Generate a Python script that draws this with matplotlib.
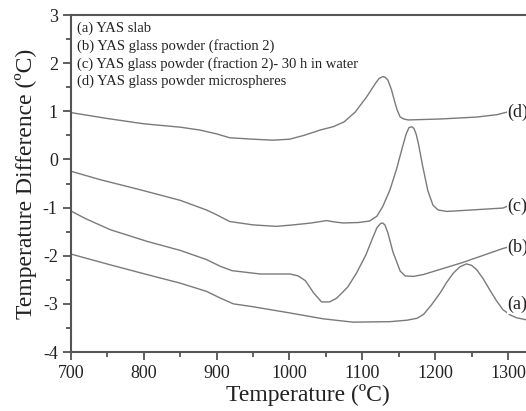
import numpy as np
import matplotlib
matplotlib.use('Agg')
from matplotlib import pyplot as plt
from matplotlib.ticker import MultipleLocator

plt.rcParams['font.family'] = ['Liberation Serif', 'DejaVu Serif']
plt.rcParams['axes.unicode_minus'] = False

# (a) YAS slab
t_a = [701, 754, 804, 850, 886, 905, 923, 950, 1001, 1046, 1087, 1138, 1161,
       1175, 1184, 1195, 1207, 1216, 1225, 1234, 1243, 1250, 1257, 1266, 1275,
       1284, 1293, 1303, 1312, 1325, 1350]
dt_a = [-1.97, -2.19, -2.39, -2.57, -2.74, -2.88, -3.00, -3.06, -3.19, -3.31,
        -3.38, -3.37, -3.34, -3.30, -3.22, -3.02, -2.77, -2.55, -2.36, -2.23,
        -2.17, -2.20, -2.29, -2.48, -2.71, -2.93, -3.12, -3.23, -3.29, -3.33,
        -3.36]

# (b) YAS glass powder (fraction 2)
t_b = [701, 720, 754, 804, 850, 886, 905, 921, 960, 1001, 1012, 1022, 1033,
       1044, 1055, 1065, 1080, 1092, 1105, 1115, 1120, 1125, 1128, 1131, 1135,
       1142, 1152, 1159, 1170, 1184, 1238, 1293, 1298]
dt_b = [-1.08, -1.23, -1.46, -1.70, -1.89, -2.08, -2.22, -2.31, -2.38, -2.38,
        -2.42, -2.52, -2.77, -2.96, -2.96, -2.88, -2.65, -2.36, -1.98, -1.60,
        -1.42, -1.33, -1.32, -1.36, -1.52, -1.92, -2.32, -2.42, -2.43, -2.39,
        -2.14, -1.85, -1.83]

# (c) YAS glass powder (fraction 2)- 30 h in water
t_c = [701, 740, 795, 850, 886, 900, 918, 950, 982, 1005, 1030, 1051, 1062,
       1074, 1095, 1110, 1120, 1128, 1138, 1147, 1155, 1160, 1164, 1168, 1171,
       1174, 1177, 1183, 1190, 1197, 1204, 1216, 1250, 1293, 1298]
dt_c = [-0.25, -0.42, -0.63, -0.85, -1.05, -1.15, -1.29, -1.36, -1.39, -1.36,
        -1.32, -1.27, -1.30, -1.32, -1.31, -1.28, -1.18, -0.98, -0.63, -0.20,
        0.25, 0.52, 0.66, 0.68, 0.64, 0.52, 0.33, -0.15, -0.65, -0.95, -1.05,
        -1.08, -1.05, -1.01, -0.98]

# (d) YAS glass powder microspheres
t_d = [701, 750, 800, 850, 877, 900, 918, 950, 977, 1000, 1020, 1042, 1060,
       1075, 1090, 1106, 1118, 1123, 1128, 1131, 1135, 1140, 1145, 1148, 1152,
       1157, 1163, 1207, 1257, 1285, 1298]
dt_d = [0.97, 0.85, 0.74, 0.67, 0.61, 0.53, 0.45, 0.42, 0.40, 0.42, 0.50, 0.61,
        0.68, 0.78, 0.98, 1.30, 1.58, 1.68, 1.72, 1.71, 1.65, 1.45, 1.17, 1.02,
        0.88, 0.84, 0.82, 0.84, 0.88, 0.93, 0.98]

legend_lines = ['(a) YAS slab',
                '(b) YAS glass powder (fraction 2)',
                '(c) YAS glass powder (fraction 2)- 30 h in water',
                '(d) YAS glass powder microspheres']
curve_tags = ['(a)', '(b)', '(c)', '(d)']
tag_y = [-3.02, -1.83, -0.98, 0.98]

fig = plt.figure(figsize=(5.26, 4.11), dpi=100)
ax = fig.add_axes([71/526, 59/411, 650*0.7283/526, 337/411])

line_col = '#7a7a7a'
for t, d in [(t_a, dt_a), (t_b, dt_b), (t_c, dt_c), (t_d, dt_d)]:
    ax.plot(t, d, color=line_col, lw=1.0)

for tag, y in zip(curve_tags, tag_y):
    ax.text(1299, y, tag, fontsize=13, ha='left', va='center', color='#222222',
            bbox=dict(facecolor='white', edgecolor='none', pad=0.5))

for i, s in enumerate(legend_lines):
    ax.text(0.012, 0.96 - i * 0.052, s, transform=ax.transAxes, fontsize=10.5,
            ha='left', va='center', color='#222222')

ax.set_xlim(700, 1350)
ax.set_ylim(-4, 3)
ax.xaxis.set_major_locator(MultipleLocator(100))
ax.xaxis.set_minor_locator(MultipleLocator(50))
ax.yaxis.set_major_locator(MultipleLocator(1))
ax.yaxis.set_minor_locator(MultipleLocator(0.5))
ax.tick_params(which='both', direction='out', colors='#444444', labelcolor='#222222',
               labelsize=13, width=1.2)
ax.tick_params(which='major', length=6)
ax.tick_params(which='minor', length=3.5)
ax.spines['right'].set_visible(False)
for s in ['left', 'bottom', 'top']:
    ax.spines[s].set_color('#555555')
    ax.spines[s].set_linewidth(1.5)

ax.set_xlabel('Temperature (ºC)', fontsize=17, labelpad=1, color='#222222')
ax.set_ylabel('Temperature Difference (ºC)', fontsize=17, labelpad=4, color='#222222')

fig.savefig('out.png', dpi=100)
